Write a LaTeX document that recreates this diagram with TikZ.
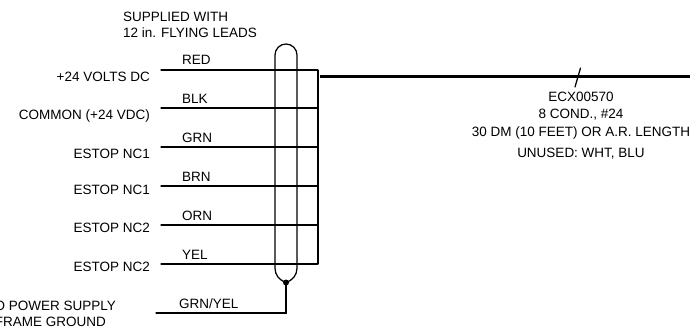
\documentclass[tikz,border=0pt]{standalone}
\usepackage{fontspec}
\setmainfont{Liberation Sans}
\tikzset{
  wire/.style={line width=1.25pt,line cap=round},
  bundle/.style={line width=1.9pt},
  cable/.style={line width=2.1pt},
  lbl/.style={inner sep=0pt,font=\fontsize{13.5}{15}\selectfont},
  sig/.style={lbl,anchor=east},
  col/.style={lbl,anchor=west},
  mid/.style={lbl,anchor=center},
}
\begin{document}
\begin{tikzpicture}[x=1pt,y=-1pt]
\useasboundingbox (0,0) rectangle (690,332);
\clip (0,0) rectangle (690,332);
\fill[white] (0,0) rectangle (690,332);
\node[col] (s1) at (123,17) {SUPPLIED WITH};
\node[col] (s2) at (123,33) {12 in. FLYING LEADS};
% signal labels
\node[sig] (a1) at (150,77) {+24 VOLTS DC};
\node[sig] (a2) at (150,116) {COMMON (+24 VDC)};
\node[sig] (a3) at (150,154) {ESTOP NC1};
\node[sig] (a4) at (150,190) {ESTOP NC1};
\node[sig] (a5) at (150,228) {ESTOP NC2};
\node[sig] (a6) at (150,267) {ESTOP NC2};
\node[sig] (a7) at (116,306) {TO POWER SUPPLY};
\node[sig] (a8) at (106,322) {FRAME GROUND};
% colours
\node[col] (c1) at (182,60) {RED};
\node[col] (c2) at (182,99) {BLK};
\node[col] (c3) at (182,138) {GRN};
\node[col] (c4) at (182,177) {BRN};
\node[col] (c5) at (182,216) {ORN};
\node[col] (c6) at (182,255) {YEL};
\node[col] (c7) at (179,304) {GRN/YEL};
% wires
\foreach \i/\y in {1/70,2/108,3/147,4/186,5/225,6/264}{
  \coordinate (wl\i) at (161,\y);
  \coordinate (wr\i) at (318,\y);
  \draw[wire] (wl\i) -- (wr\i);
}
\draw[bundle] (wr1) -- (wr6);
% shield oval
\coordinate (ovb) at (286,282.5);
\draw[wire] (ovb) .. controls (279,280) and (275,275) .. (275,268) -- (275,55)
  arc[start angle=180,end angle=360,radius=11] -- (297,268)
  .. controls (297,275) and (293,280) .. (ovb);
\node[circle,fill=black,inner sep=0pt,minimum size=6pt] (dot) at (ovb) {};
\coordinate (g) at (156,313);
\draw[wire] (dot.center) |- (g);
% cable
\coordinate (cl) at (320,76.5);
\coordinate (cr) at (690,76.5);
\draw[cable] (cl) -- (cr);
\coordinate (t1) at (575,87);
\coordinate (t2) at (580.5,68);
\draw[wire] (t1) -- (t2);
\node[mid] (e1) at (581,96.5) {ECX00570};
\node[mid] (e2) at (581,114.5) {8 COND., \#24};
\node[mid] (e3) at (581,133) {30 DM (10 FEET) OR A.R. LENGTH};
\node[mid] (e4) at (581,154) {UNUSED: WHT, BLU};
\end{tikzpicture}
\end{document}
